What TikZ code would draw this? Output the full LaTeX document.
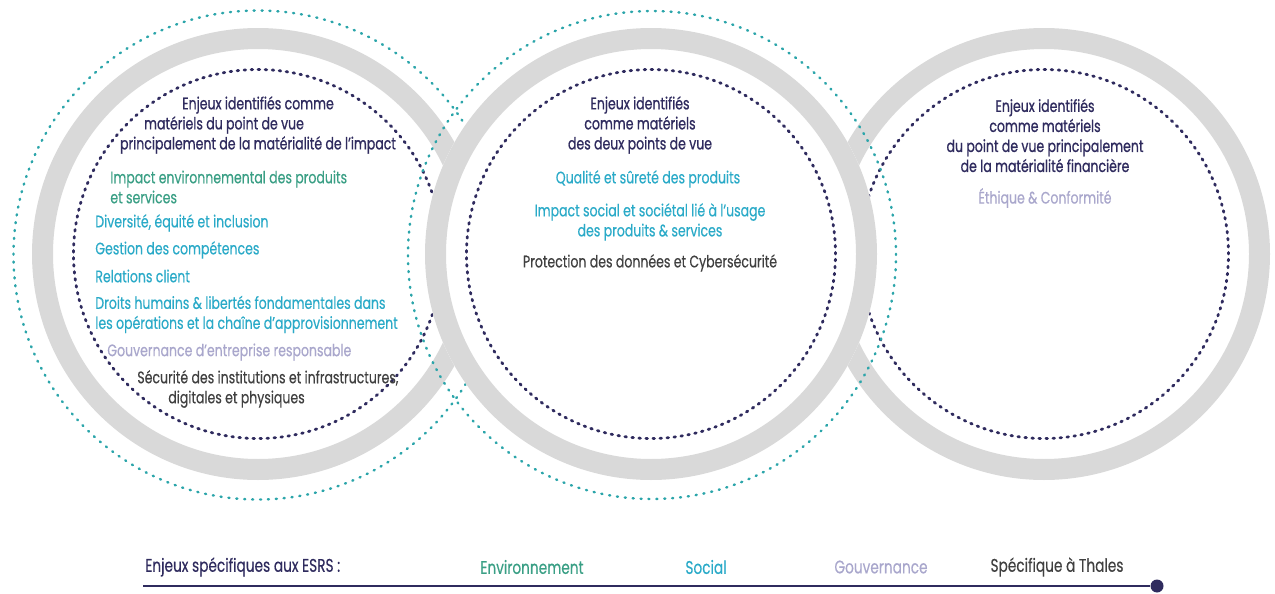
\documentclass[tikz,border=0pt]{standalone}
\usepackage{fontspec}
\setmainfont{Poppins}[FakeStretch=0.75,FakeBold=0.35]
\newfontfamily\headfont{Poppins}[FakeStretch=0.75,FakeBold=0.8]
\definecolor{thnavy}{HTML}{2F2B5E}
\definecolor{thgreen}{HTML}{3A9F85}
\definecolor{thcyan}{HTML}{2AAAC8}
\definecolor{thlav}{HTML}{A9A7CC}
\definecolor{thdark}{HTML}{404040}
\definecolor{ringgrey}{HTML}{D9D9D9}
\definecolor{tealdot}{HTML}{2BA5AA}
\usepackage{tikz}
\usetikzlibrary{positioning}
\tikzset{
  ringband/.style={ringgrey,line width=0.42cm},
  navydots/.style={thnavy,line width=1.6pt,line cap=round,dash pattern=on 0.9pt off 3.1pt},
  cyandots/.style={tealdot,line width=1.4pt,line cap=round,dash pattern=on 0.6pt off 3.9pt},
  txt/.style={inner sep=0pt,font=\fontsize{9.5}{11.4}\selectfont},
  headtxt/.style={inner sep=0pt,font=\fontsize{9.5}{11.4}\selectfont\headfont,thnavy,align=center},
  envtxt/.style={txt,thgreen,align=left},
  soctxt/.style={txt,thcyan,align=left},
  govtxt/.style={txt,thlav,align=left},
  spetxt/.style={txt,thdark,align=left},
  legtxt/.style={inner sep=0pt,font=\fontsize{10.4}{12}\selectfont},
  legline/.style={thnavy,line width=1.7pt},
  enddot/.style={circle,fill=thnavy,inner sep=0pt,minimum size=0.26cm},
}
\begin{document}
\begin{tikzpicture}[x=0.02cm,y=0.02cm]
  \useasboundingbox (0,0) rectangle (1275,593);
  % --- anneaux : droite, gauche, puis milieu par-dessus ---
  \foreach \cx in {1044,258}{
    \fill[white] (\cx,339) circle (226);
    \draw[ringband] (\cx,339) circle (215.5);
    \draw[navydots] (\cx,339) circle (184.5);
  }
  \draw[cyandots] (258,338) circle (244.5);
  \fill[white] (651,339) circle (226);
  \draw[ringband] (651,339) circle (215.5);
  \draw[navydots] (651,339) circle (184.5);
  \draw[cyandots] (652,338) circle (244);

  % cercle gauche
  \node[headtxt] (headL) at (258,468)
    {Enjeux identifiés comme\\matériels du point de vue\rule{1.36cm}{0pt}\\principalement de la matérialité de l’impact};
  \node[envtxt,anchor=west] (envL) at (110,406) {Impact environnemental des produits\\et services};
  \node[soctxt,anchor=west] (divL) at (95,370) {Diversité, équité et inclusion};
  \node[soctxt,anchor=west] (gesL) at (95,343) {Gestion des compétences};
  \node[soctxt,anchor=west] (relL) at (95,317) {Relations client};
  \node[soctxt,anchor=west] (droL) at (95,278.5)
    {Droits humains \& libertés fondamentales dans\\les opérations et la chaîne d’approvisionnement};
  \node[govtxt,anchor=west] (gouL) at (107,241) {Gouvernance d’entreprise responsable};
  \node[spetxt,anchor=west] (secL) at (137,204)
    {Sécurité des institutions et infrastructures,\\\hspace*{0.62cm}digitales et physiques};

  % cercle milieu
  \node[headtxt] (headM) at (640,468) {Enjeux identifiés\\comme matériels\\des deux points de vue};
  \node[soctxt,align=center] (quaM) at (648,414) {Qualité et sûreté des produits};
  \node[soctxt,align=center] (impM) at (650,371) {Impact social et sociétal lié à l’usage\\des produits \& services};
  \node[spetxt,align=center] (proM) at (650,330) {Protection des données et Cybersécurité};

  % cercle droit
  \node[headtxt] (headR) at (1045,457.5)
    {Enjeux identifiés\\comme matériels\\du point de vue principalement\\de la matérialité financière};
  \node[govtxt,align=center] (ethR) at (1045,395) {Éthique \& Conformité};

  % legende
  \node[legtxt,thnavy,anchor=west] (legT) at (145,26) {Enjeux spécifiques aux ESRS :};
  \node[legtxt,thgreen] (legE) at (532,26) {Environnement};
  \node[legtxt,thcyan] (legS) at (706,26) {Social};
  \node[legtxt,thlav] (legG) at (881,26) {Gouvernance};
  \node[legtxt,thdark] (legX) at (1057,26) {Spécifique à Thales};
  \coordinate (legA) at (143,7);
  \node[enddot] (legB) at (1157,7) {};
  \draw[legline] (legA) -- (legB);
\end{tikzpicture}
\end{document}
